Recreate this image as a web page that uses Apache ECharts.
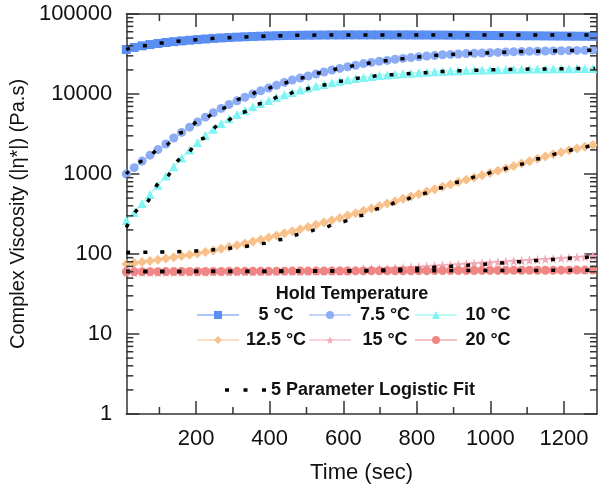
<!DOCTYPE html>
<html><head><meta charset="utf-8">
<script src="https://cdn.jsdelivr.net/npm/echarts@6/dist/echarts.min.js"></script>
</head><body style="margin:0;background:#fff">
<div id="c" style="width:613px;height:494px"></div>
<script>
// ---- data ----
const times = [10,31.5,53,74.5,96,117.5,139,160.5,182,203.5,225,246.5,268,289.5,311,332.5,354,375.5,397,418.5,440,461.5,483,504.5,526,547.5,569,590.5,612,633.5,655,676.5,698,719.5,741,762.5,784,805.5,827,848.5,870,891.5,913,934.5,956,977.5,999,1020.5,1042,1063.5,1085,1106.5,1128,1149.5,1171,1192.5,1214,1235.5,1257,1278.5];
const visc5 = [36000,38200,40000,41500,42800,44000,45100,46100,47000,47900,48700,49500,50200,50800,51400,51900,52400,52800,53200,53500,53800,54000,54200,54400,54500,54600,54700,54700,54800,54800,54800,54800,54800,54800,54700,54700,54700,54600,54600,54500,54500,54400,54300,54200,54100,54000,53900,53800,53700,53600,53500,53400,53300,53200,53100,53000,52900,52800,52700,52600];
const visc75 = [1000,1200,1450,1720,2020,2370,2820,3310,3850,4470,5130,5820,6610,7410,8220,9120,10000,10970,11890,12880,13960,14960,15850,16790,17780,18840,19950,20890,21880,22910,23990,24830,25700,26300,27230,27860,28510,29170,29850,30200,30900,31260,31620,31990,32360,32510,32810,33110,33420,33730,33880,34120,34280,34440,34590,34750,34910,35080,35240,35400];
const visc10 = [263,331,427,556,724,944,1230,1585,1995,2483,3055,3631,4266,4898,5559,6237,6918,7586,8318,9016,9772,10471,11220,11885,12589,13183,13804,14454,15066,15596,16069,16520,16982,17298,17620,17906,18155,18408,18664,18923,19143,19320,19498,19634,19770,19907,20045,20137,20230,20323,20417,20464,20559,20606,20654,20701,20749,20797,20845,20893];
const visc125 = [75.2,77.3,79.4,82.0,84.7,87.7,91.0,94.4,97.9,101.6,105.7,110.7,116.1,122.2,128.5,135.5,143.2,151.4,160.7,170.6,181.1,192.3,204.2,217.8,232.3,247.7,264.2,281.8,302.0,323.6,346.7,371.5,398.1,426.6,457.1,489.8,524.8,562.3,602.6,645.7,691.8,741.3,794.3,847.2,903.6,963.8,1028,1096,1175,1259,1349,1445,1549,1652,1762,1871,1977,2089,2198,2312];
const visc15 = [58.6,58.7,58.9,59.0,59.2,59.2,59.3,59.4,59.6,59.6,59.7,59.8,60.0,60.0,60.1,60.3,60.4,60.5,60.7,60.8,61.0,61.1,61.2,61.5,61.8,62.1,62.4,62.8,63.2,63.7,64.3,64.9,65.5,66.1,66.8,67.6,68.4,69.2,70.1,71.1,72.1,73.1,74.1,75.2,76.2,77.3,78.3,79.4,80.5,81.7,82.8,83.9,85.1,86.3,87.5,88.7,89.9,91.2,92.5,93.8];
const visc20 = [60.0,60.1,60.1,60.2,60.2,60.3,60.3,60.4,60.4,60.5,60.5,60.6,60.6,60.7,60.7,60.8,60.8,60.9,60.9,61.0,61.0,61.1,61.1,61.2,61.2,61.3,61.3,61.4,61.4,61.5,61.5,61.6,61.6,61.7,61.7,61.8,61.8,61.9,61.9,62.0,62.0,62.1,62.1,62.2,62.2,62.3,62.3,62.4,62.4,62.5,62.5,62.6,62.6,62.7,62.7,62.8,62.8,62.9,62.9,63.0];

const fitTimes = [10,54,108,162,215,269,323,377,431,485,539,593,647,701,755,809,862,916,970,1024,1078,1132,1186,1240,1285];
const fit5 = [36000,40000,43500,46100,48300,50200,51600,52800,53600,54200,54500,54700,54800,54800,54800,54800,54800,54800,54800,54800,54800,54800,54800,54800,54800];
const fit75 = [1000,1445,2190,3311,4786,6607,8710,10965,13490,15849,18408,20893,23442,25704,27542,29174,30549,31623,32359,33113,33884,34277,34674,35075,35481];
const fit10 = [215,400,830,1585,2754,4266,5888,7586,9333,11220,12882,14454,15849,16982,17783,18408,19055,19498,19861,20137,20417,20560,20701,20800,20893];
const fit125 = [104.7,105.2,105.9,107.2,109.6,114.8,123.0,134.9,151.4,177.8,208.9,251.2,302.0,371.5,457.1,555.9,668.3,794.3,944.1,1122,1318,1549,1799,2089,2399];
const fit15 = [60.3,60.3,60.3,60.3,60.3,60.4,60.4,60.5,60.6,60.8,61.0,61.4,62.0,63.0,64.6,66.5,68.8,71.3,74.0,77.0,80.0,83.2,86.5,90.0,93.5];
const fit20 = [60.3,60.4,60.5,60.6,60.7,60.8,60.9,61.0,61.1,61.2,61.3,61.4,61.5,61.6,61.7,61.8,61.9,62.0,62.1,62.2,62.3,62.4,62.5,62.6,62.7];

const seriesNames = ['5 °C','7.5 °C','10 °C','12.5 °C','15 °C','20 °C'];
const fitName = '5 Parameter Logistic Fit';
const legendTitle = 'Hold Temperature';
const xName = 'Time (sec)';
const yName = 'Complex Viscosity (|η*|) (Pa.s)';
const xMajorTicks = [200,400,600,800,1000,1200];
const xMinorTicks = [100,300,500,700,900,1100];
const yMinorTicks = [2,3,4,5,6,7,8,9,20,30,40,50,60,70,80,90,200,300,400,500,600,700,800,900,2000,3000,4000,5000,6000,7000,8000,9000,20000,30000,40000,50000,60000,70000,80000,90000];
const X_MIN = 10, X_MAX = 1290, Y_MIN = 1, Y_MAX = 100000;

// ---- chart ----
const FONT = '"Liberation Sans", Arial, sans-serif';
const AX = '#333';
const STAR = 'path://M50,0 L61,35 L98,35 L68,57 L79,91 L50,70 L21,91 L32,57 L2,35 L39,35 Z';
const DOTS = 'path://M0,0 L4,0 L4,3.5 L0,3.5 Z M18.5,0 L22.5,0 L22.5,3.5 L18.5,3.5 Z M37,0 L41,0 L41,3.5 L37,3.5 Z';
const colors = ['#5a8ef2','#8cadf6','#80f4f2','#f8c08a','#f2a9b5','#f08585'];
const symbols = ['rect','circle','triangle','diamond',STAR,'circle'];
const sizes = [9,9,9,10,10,9];
const allVals = [visc5,visc75,visc10,visc125,visc15,visc20];
const allFits = [fit5,fit75,fit10,fit125,fit15,fit20];

const series = [];
allVals.forEach((vals,k)=>{
  series.push({type:'line', name:seriesNames[k], xAxisIndex:0, yAxisIndex:0,
    data: times.map((t,i)=>[t, vals[i]]),
    symbol:symbols[k], symbolSize:sizes[k], showSymbol:true,
    itemStyle:{color:colors[k]}, lineStyle:{color:colors[k], width:2, opacity:0.5},
    z:2, silent:true});
});
allFits.forEach((vals)=>{
  series.push({type:'line', name:fitName, xAxisIndex:0, yAxisIndex:0,
    data: fitTimes.map((t,i)=>[t, vals[i]]),
    smooth:0.35, smoothMonotone:'x', symbol:'none', showSymbol:false,
    itemStyle:{color:'#000'},
    lineStyle:{color:'#000', width:3.5, type:[4,13]},
    z:5, silent:true});
});
// minor ticks, placed through the axes' own scales
series.push({type:'custom', xAxisIndex:0, yAxisIndex:0, clip:false, silent:true, z:10,
  data: yMinorTicks.map(v=>[X_MIN, v]),
  renderItem:function(p, api){
    const v = api.value(1);
    const l = api.coord([X_MIN, v]), r = api.coord([X_MAX, v]);
    return {type:'group', children:[
      {type:'line', shape:{x1:l[0], y1:l[1], x2:l[0]+7, y2:l[1]}, style:{stroke:AX, lineWidth:1.5}},
      {type:'line', shape:{x1:r[0]-7, y1:r[1], x2:r[0], y2:r[1]}, style:{stroke:AX, lineWidth:1.5}}
    ]};
  }});
series.push({type:'custom', xAxisIndex:0, yAxisIndex:0, clip:false, silent:true, z:10,
  data: xMinorTicks.map(t=>[t, Y_MIN]),
  renderItem:function(p, api){
    const t = api.value(0);
    const b = api.coord([t, Y_MIN]), tp = api.coord([t, Y_MAX]);
    return {type:'group', children:[
      {type:'line', shape:{x1:b[0], y1:b[1], x2:b[0], y2:b[1]-7}, style:{stroke:AX, lineWidth:1.5}},
      {type:'line', shape:{x1:tp[0], y1:tp[1], x2:tp[0], y2:tp[1]+7}, style:{stroke:AX, lineWidth:1.5}}
    ]};
  }});

const lineAx = {show:true, lineStyle:{color:AX, width:1.5}};
const legendText = {fontFamily:FONT, fontSize:18, fontWeight:'bold', color:'#111', lineHeight:22};
function colLegend(names, left, w){
  return {data:names, orient:'vertical', left:left, top:306, padding:0, itemWidth:42, itemHeight:10, itemGap:7,
    selectedMode:false, formatter:n=>'{a|'+n+'}',
    textStyle:{rich:{a:Object.assign({width:w, align:'center'}, legendText)}}};
}
const ch = echarts.init(document.getElementById('c'));
ch.setOption({
  animation:false,
  backgroundColor:'#fff',
  textStyle:{fontFamily:FONT},
  grid:{left:117, right:16, top:14, bottom:80, containLabel:false},
  title:{text:legendTitle, left:352, top:285, textAlign:'center', padding:0,
    textStyle:{fontFamily:FONT, fontSize:18, fontWeight:'bold', color:'#111'}},
  legend:[
    colLegend([seriesNames[0], seriesNames[3]], 196, 64),
    colLegend([seriesNames[1], seriesNames[4]], 308, 58),
    colLegend([seriesNames[2], seriesNames[5]], 414, 52),
    {data:[{name:fitName, icon:DOTS}], left:225, top:381, padding:0, itemWidth:41, itemHeight:3.5, selectedMode:false,
      formatter:n=>'{a|'+n+'}', textStyle:{rich:{a:legendText}}}
  ],
  xAxis:[
    {type:'value', position:'bottom', min:X_MIN, max:X_MAX, name:xName, nameLocation:'middle', nameGap:48,
      nameTextStyle:{fontSize:22, color:'#111', fontFamily:FONT},
      axisLine:lineAx, splitLine:{show:false},
      axisTick:{inside:true, length:13, customValues:xMajorTicks, lineStyle:{color:AX, width:1.5}},
      axisLabel:{customValues:xMajorTicks, fontSize:22, color:'#111', margin:14, formatter:v=>String(v)}},
    {type:'value', position:'top', min:X_MIN, max:X_MAX,
      axisLine:lineAx, splitLine:{show:false},
      axisTick:{inside:true, length:13, customValues:xMajorTicks, lineStyle:{color:AX, width:1.5}},
      axisLabel:{show:false}}
  ],
  yAxis:[
    {type:'log', logBase:10, position:'left', min:Y_MIN, max:Y_MAX, splitNumber:5,
      name:yName, nameLocation:'middle', nameGap:89, nameRotate:90,
      nameTextStyle:{fontSize:20, color:'#111', fontFamily:FONT},
      axisLine:lineAx, splitLine:{show:false},
      axisTick:{inside:true, length:13, lineStyle:{color:AX, width:1.5}},
      axisLabel:{fontSize:22, color:'#111', margin:14, formatter:v=>String(Math.round(v))}},
    {type:'log', logBase:10, position:'right', min:Y_MIN, max:Y_MAX, splitNumber:5,
      axisLine:lineAx, splitLine:{show:false},
      axisTick:{inside:true, length:13, lineStyle:{color:AX, width:1.5}},
      axisLabel:{show:false}}
  ],
  series:series
});
</script></body></html>
